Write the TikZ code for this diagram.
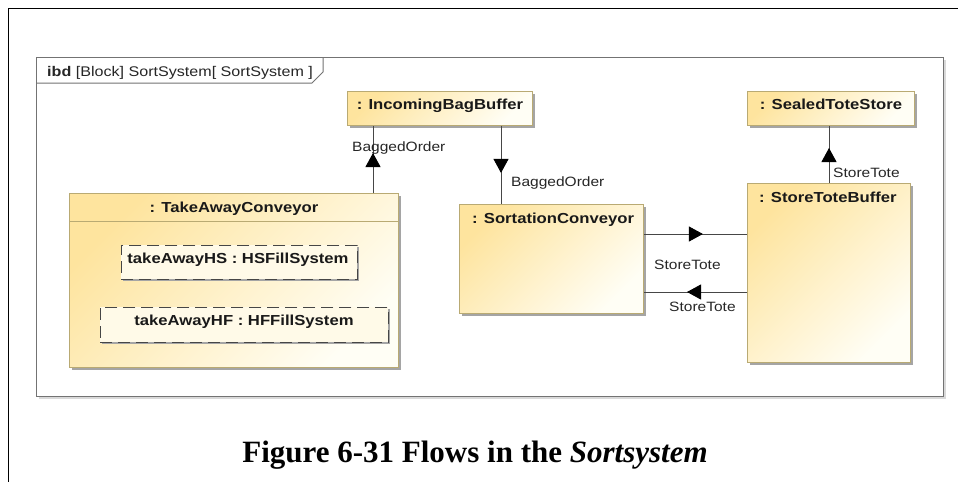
\documentclass[tikz,border=0pt]{standalone}
\usepackage{fontspec}
\setmainfont{Liberation Serif}
\newfontfamily\df[FakeStretch=1.15]{Liberation Sans}
\usetikzlibrary{arrows.meta,decorations.markings,shadows}
\definecolor{bord}{RGB}{185,170,115}
\definecolor{ylwA}{RGB}{254,228,158}
\definecolor{ylwM}{RGB}{255,243,205}
\definecolor{ylwB}{RGB}{255,254,245}
\definecolor{partfill}{RGB}{255,250,232}
\definecolor{shad}{RGB}{165,165,165}
\definecolor{linec}{RGB}{70,70,70}
\definecolor{framec}{RGB}{115,115,115}
\begin{document}
\begin{tikzpicture}[x=1pt,y=-1pt,
  block/.style={rectangle, draw=bord, line width=0.9pt, inner sep=0pt, anchor=north west,
    left color=ylwA, middle color=ylwM, right color=ylwB, shading angle=45,
    drop shadow={shadow xshift=2.5pt, shadow yshift=-2.5pt, fill=shad, opacity=1}},
  part/.style={rectangle, draw=linec, line width=0.8pt, dash pattern=on 12pt off 6pt,
    inner sep=0pt, anchor=north west, fill=partfill,
    drop shadow={shadow xshift=2pt, shadow yshift=-2pt, fill=shad, opacity=1}},
  title/.style={font=\df\bfseries\fontsize{14.5}{17}\selectfont, inner sep=0pt, text=black!90},
  lbl/.style={font=\df\fontsize{13.5}{16}\selectfont, inner sep=0pt, text=black!85},
  flow/.style={draw=linec, line width=0.9pt, postaction={decorate},
    decoration={markings, mark=at position #1 with
      {\arrow{Triangle[width=15pt,length=14pt,fill=black,color=black]}}}}
]
\useasboundingbox (0,0) rectangle (958,482);
% page frame
\draw[black, line width=1pt] (958,8) -- (8,8) -- (8,482);
% diagram frame
\node[draw=framec, line width=1.2pt, fill=white, inner sep=0pt, anchor=north west,
  minimum width=907pt, minimum height=339pt,
  drop shadow={shadow xshift=2pt, shadow yshift=-2pt, fill=black!15, opacity=1}] (frame) at (36,57) {};
\draw[framec, line width=1pt] (frame.north west) ++(0,26) -- ++(276,0) -- ++(11,-11) -- (323,57);
\node[lbl, anchor=base west, font=\df\fontsize{14}{16}\selectfont] (hdr) at (47,76) {\textbf{ibd} [Block] SortSystem[ SortSystem ]};

% blocks
\node[block, minimum width=185pt, minimum height=34pt] (ibb) at (347,91) {};
\node[block, minimum width=167pt, minimum height=34pt] (sts) at (747,91) {};
\node[block, minimum width=329pt, minimum height=174pt] (tac) at (69,193) {};
\node[block, minimum width=184pt, minimum height=109pt] (sc) at (459,204) {};
\node[block, minimum width=163pt, minimum height=179pt] (stb) at (747,183) {};
\draw[bord, line width=0.9pt] ([yshift=-28pt]tac.north west) -- ([yshift=-28pt]tac.north east);
\node[part, minimum width=236pt, minimum height=34pt] (hs) at (121,245) {};
\node[part, minimum width=288pt, minimum height=35pt] (hf) at (100,307) {};

% titles
\node[title, anchor=base] (ibbT) at (440,109) {: IncomingBagBuffer};
\node[title, anchor=base] (stsT) at (831,109) {: SealedToteStore};
\node[title, anchor=base] (tacT) at (234,212) {: TakeAwayConveyor};
\node[title, anchor=base] (hsT) at (238,263) {takeAwayHS : HSFillSystem};
\node[title, anchor=base] (hfT) at (244,325) {takeAwayHF : HFFillSystem};
\node[title, anchor=base west] (scT) at (472,223) {: SortationConveyor};
\node[title, anchor=base west] (stbT) at (759,202) {: StoreToteBuffer};

% connector x/y positions
\coordinate (xa) at (373,0);
\coordinate (xb) at (501,0);
\coordinate (xc) at (829,0);
\coordinate (ya) at (0,234);
\coordinate (yb) at (0,292);

% flows
\draw[flow=40pt] (tac.north -| xa) -- (ibb.south -| xa);
\draw[flow=47pt] (ibb.south -| xb) -- (sc.north -| xb);
\draw[flow=35pt] (stb.north -| xc) -- (sts.south -| xc);
\draw[flow=59pt] (sc.east |- ya) -- (stb.west |- ya);
\draw[flow=60pt] (stb.west |- yb) -- (sc.east |- yb);

% flow labels
\node[lbl, anchor=base west] (l1) at (352,151) {BaggedOrder};
\node[lbl, anchor=base west] (l2) at (511,186) {BaggedOrder};
\node[lbl, anchor=base west] (l3) at (833,177) {StoreTote};
\node[lbl, anchor=base west] (l4) at (654,269) {StoreTote};
\node[lbl, anchor=base west] (l5) at (669,311) {StoreTote};

% caption
\node[anchor=base, font=\bfseries\fontsize{31}{36}\selectfont, inner sep=0pt] (cap) at (475,462)
  {Figure 6-31 Flows in the \textit{Sortsystem}};
\end{tikzpicture}
\end{document}
